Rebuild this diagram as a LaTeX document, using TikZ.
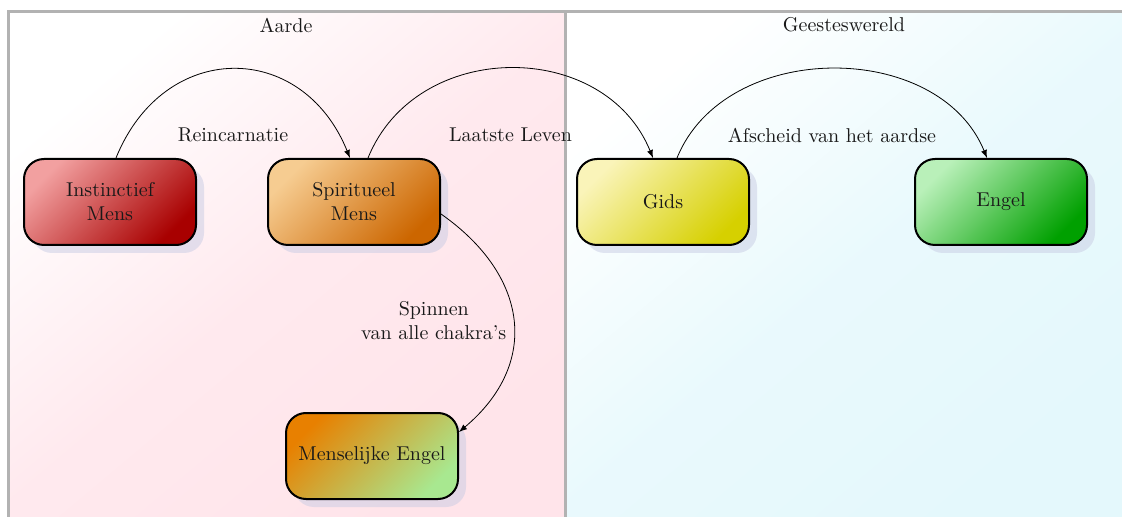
\documentclass[tikz,border=0pt]{standalone}
\usetikzlibrary{shadows}
\definecolor{instLicht}{RGB}{242,160,160}
\definecolor{instDonker}{RGB}{168,0,0}
\definecolor{spirLicht}{RGB}{246,204,145}
\definecolor{spirDonker}{RGB}{204,102,0}
\definecolor{gidsLicht}{RGB}{250,244,185}
\definecolor{gidsDonker}{RGB}{214,208,0}
\definecolor{engLicht}{RGB}{185,240,185}
\definecolor{engDonker}{RGB}{0,160,0}
\definecolor{mensOranje}{RGB}{232,128,0}
\definecolor{mensGroen}{RGB}{168,232,144}
\definecolor{schaduw}{RGB}{200,204,228}
\definecolor{aardeRoze}{RGB}{255,228,234}
\definecolor{geestBlauw}{RGB}{228,248,252}
\begin{document}
\begin{tikzpicture}[x=0.5pt,y=0.5pt,yscale=-1,xscale=1,
  fase/.style={draw=black, line width=1pt, rounded corners=10pt, minimum width=86pt, minimum height=43pt, align=center, text=black!90, drop shadow={fill=schaduw, shadow xshift=4pt, shadow yshift=-4pt}},
  overgang/.style={-latex, line width=0.4pt, looseness=1.4},
  etiket/.style={text=black!90, align=center}]
\useasboundingbox (0,0) rectangle (1122,517);

%Shape: Rectangle [Aarde]
\fill [top color=white, bottom color=aardeRoze, middle color=aardeRoze!80, shading angle=40] (8,12) rectangle (565,522) ;
%Shape: Rectangle [Geesteswereld]
\fill [top color=white, bottom color=geestBlauw, middle color=geestBlauw!80, shading angle=40] (565,12) rectangle (1126,522) ;
%Straight Lines [frame]
\draw [color=black!30, line width=1.5pt] (1126,12) -- (8,12) -- (8,522) ;
\draw [color=black!30, line width=1.5pt] (565,12) -- (565,522) ;

% Text Node
\node (aarde) [etiket] at (286,25) {Aarde};
\node (geest) [etiket] at (844,25) {Geesteswereld};

%Shape: Rounded Rect
\node (inst) [fase, top color=instLicht, middle color=instDonker!97!instLicht, bottom color=instDonker, shading angle=45] at (110,202) {Instinctief\\Mens};
\node (spir) [fase, top color=spirLicht, middle color=spirDonker!97!spirLicht, bottom color=spirDonker, shading angle=45] at (354,202) {Spiritueel\\Mens};
\node (gids) [fase, top color=gidsLicht, middle color=gidsDonker!97!gidsLicht, bottom color=gidsDonker, shading angle=45] at (663,202) {Gids};
\node (engel) [fase, top color=engLicht, middle color=engDonker!92!engLicht, bottom color=engDonker, shading angle=45] at (1001,202) {Engel};
\node (mens) [fase, top color=mensOranje, middle color=mensGroen!55!mensOranje, bottom color=mensGroen, shading angle=45] at (372,456) {Menselijke Engel};

%Curve Lines
\draw [overgang] ([xshift=3pt]inst.north) to [out=-68,in=-112] node [etiket, midway, below=26pt] {Reincarnatie} ([xshift=-2pt]spir.north) ;
\draw [overgang, looseness=1.16] ([xshift=7pt]spir.north) to [out=-68,in=-112] node [etiket, midway, below=26pt] {Laatste Leven} ([xshift=-5pt]gids.north) ;
\draw [overgang, looseness=1.06] ([xshift=7pt]gids.north) to [out=-68,in=-112] node [etiket, midway, below=26pt] {Afscheid van het aardse} ([xshift=-7pt]engel.north) ;
\draw [overgang, looseness=1.25] ([yshift=6pt]spir.east) to [out=35,in=-40] node [etiket, midway, left=0pt] {Spinnen\\van alle chakra's} ([yshift=10pt]mens.north east) ;

\end{tikzpicture}
\end{document}
